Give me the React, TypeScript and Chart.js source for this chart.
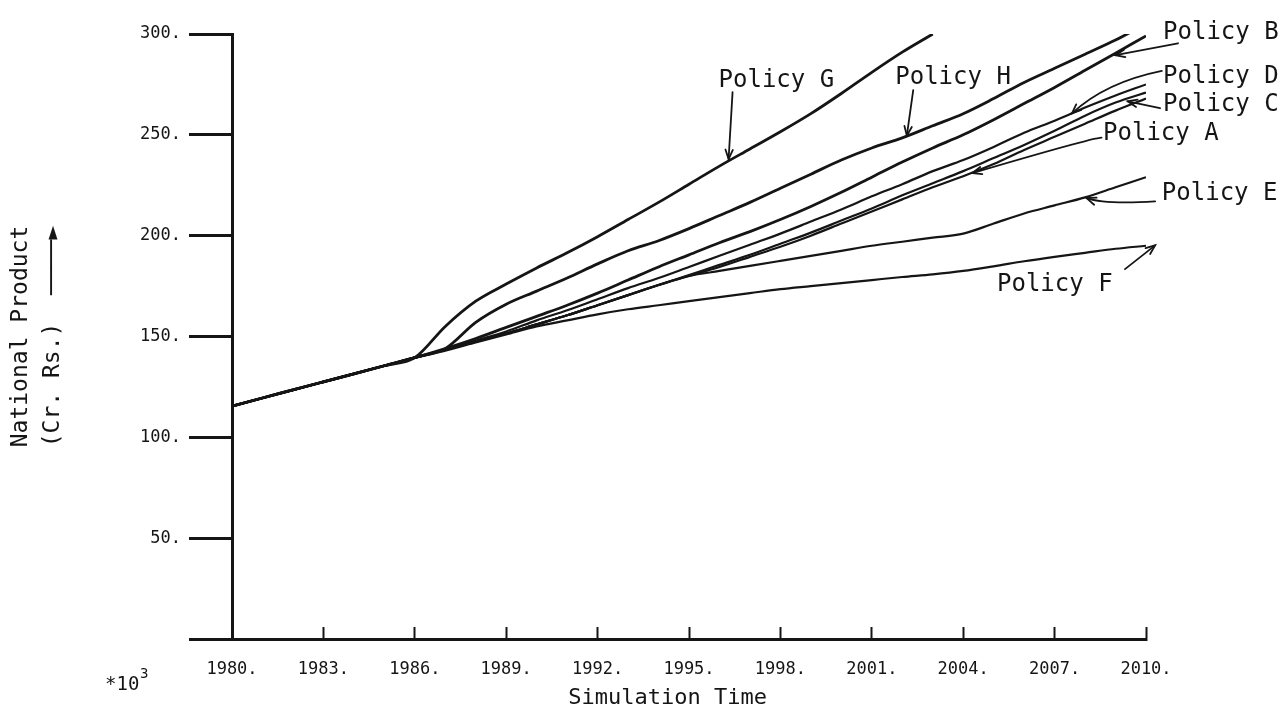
import React, { useEffect, useRef } from 'react';
import { Chart, registerables } from 'chart.js';

Chart.register(...registerables);

const FONT = '"DejaVu Sans Mono", "Liberation Mono", monospace';
const INK = '#151515';

const YEARS = [1980, 1981, 1982, 1983, 1984, 1985, 1986, 1987, 1988, 1989, 1990, 1991, 1992, 1993, 1994, 1995, 1996, 1997, 1998, 1999, 2000, 2001, 2002, 2003, 2004, 2005, 2006, 2007, 2008, 2009, 2010];

const POLICY_G = [115.5, 119.5, 123.5, 127.5, 131.5, 135.5, 139.5, 155, 167.5, 176, 184, 191.5, 199.5, 208, 216.5, 225.5, 234.5, 243, 251.5, 260.5, 270.5, 281, 291, 300, null, null, null, null, null, null, null];
const POLICY_H = [115.5, 119.5, 123.5, 127.5, 131.5, 135.5, 139.5, 144, 157, 166, 172.5, 179, 186, 192.5, 197.5, 203.5, 210, 216.5, 223.5, 230.5, 237.5, 243.5, 248.5, 254.5, 260.5, 268, 276, 283, 290, 297, 305];
const POLICY_B = [115.5, 119.5, 123.5, 127.5, 131.5, 135.5, 139.5, 144, 149, 154.5, 160, 165.5, 171.5, 178, 184.5, 190.5, 196.5, 202, 208, 214.5, 221.5, 229, 236.5, 243.5, 250, 257.5, 265.5, 273.5, 282, 290.5, 299];
const POLICY_D = [115.5, 119.5, 123.5, 127.5, 131.5, 135.5, 139.5, 143.5, 148, 152.5, 158, 163, 168.5, 174, 179, 184.5, 190, 195.5, 201, 207, 213, 219.5, 225.5, 232, 237.5, 244, 251, 257, 263.5, 269.5, 275];
const POLICY_C = [115.5, 119.5, 123.5, 127.5, 131.5, 135.5, 139.5, 143.5, 147.5, 151.5, 156, 160.5, 165.5, 170.5, 175.5, 180.5, 185.5, 190.5, 196, 201.5, 207.5, 213.5, 220, 226, 232, 238.5, 245, 252, 259.5, 266, 271];
const POLICY_A = [115.5, 119.5, 123.5, 127.5, 131.5, 135.5, 139.5, 143.5, 147.5, 151.5, 156, 160.5, 165.5, 170.5, 175.5, 180, 184.5, 189.5, 194.5, 200, 206, 212, 218, 224, 229.5, 235.5, 242.5, 249, 255.5, 262, 268];
const POLICY_E = [115.5, 119.5, 123.5, 127.5, 131.5, 135.5, 139.5, 143.5, 147.5, 151.5, 156, 160.5, 165.5, 170.5, 175.5, 180, 182.5, 185, 187.5, 190, 192.5, 195, 197, 199, 201, 206, 211, 215, 219, 224, 229];
const POLICY_F = [115.5, 119.5, 123.5, 127.5, 131.5, 135.5, 139.5, 143, 147, 151, 155, 158, 161, 163.5, 165.5, 167.5, 169.5, 171.5, 173.5, 175, 176.5, 178, 179.5, 180.8, 182.5, 184.8, 187.3, 189.5, 191.5, 193.5, 195];

const SERIES_NAMES = ['Policy G', 'Policy H', 'Policy B', 'Policy D', 'Policy C', 'Policy A', 'Policy E', 'Policy F'];
const SERIES_VALUES = [POLICY_G, POLICY_H, POLICY_B, POLICY_D, POLICY_C, POLICY_A, POLICY_E, POLICY_F];

// Axis ranges and tick steps
const Y_MIN = 0;
const Y_MAX = 300;
const Y_STEP = 50;
const X_MIN = 1980;
const X_MAX = 2010;
const X_STEP = 3;

// Label annotations (data coordinates: text start year, value at text middle)
const LABEL_TEXT = ['Policy G', 'Policy H', 'Policy B', 'Policy D', 'Policy C', 'Policy A', 'Policy E', 'Policy F'];
const LABEL_X = [1995.97, 2001.77, 2010.56, 2010.56, 2010.56, 2008.59, 2010.52, 2005.11];
const LABEL_Y = [276.8, 278.4, 300.6, 278.8, 265.1, 250.5, 221, 175.8];
// Arrow leaders: tail -> (via) -> tip, in data coordinates
const ARROW_TAIL_X = [1996.43, 2002.36, 2011.05, 2010.52, 2010.46, 2008.54, 2010.3, 2009.31];
const ARROW_TAIL_Y = [271.2, 272.2, 295.4, 281.7, 263.2, 248.6, 217.0, 183.4];
const ARROW_VIA_X = [null, null, null, 2008.66, null, 2008.21, 2008.66, null];
const ARROW_VIA_Y = [null, null, null, 276.0, null, 248.4, 215.4, null];
const ARROW_TIP_X = [1996.3, 2002.15, 2009.0, 2007.57, 2009.4, 2004.3, 2008.05, 2010.3];
const ARROW_TIP_Y = [238.0, 249.6, 289.5, 260.6, 266.6, 231.0, 218.6, 195.2];

const annotationPlugin = {
  id: 'policyAnnotations',
  afterDraw(chart: any) {
    const ctx = chart.ctx as CanvasRenderingContext2D;
    const xs = chart.scales.x;
    const ys = chart.scales.y;
    const area = chart.chartArea;
    ctx.save();
    ctx.fillStyle = INK;
    ctx.strokeStyle = INK;

    // Policy labels
    ctx.font = `24px ${FONT}`;
    ctx.textAlign = 'left';
    ctx.textBaseline = 'middle';
    for (let i = 0; i < LABEL_TEXT.length; i++) {
      ctx.fillText(LABEL_TEXT[i], xs.getPixelForValue(LABEL_X[i]), ys.getPixelForValue(LABEL_Y[i]));
    }

    // Arrows
    ctx.lineWidth = 1.8;
    ctx.lineCap = 'round';
    for (let i = 0; i < ARROW_TAIL_X.length; i++) {
      const tx = xs.getPixelForValue(ARROW_TAIL_X[i]);
      const ty = ys.getPixelForValue(ARROW_TAIL_Y[i]);
      const px = xs.getPixelForValue(ARROW_TIP_X[i]);
      const py = ys.getPixelForValue(ARROW_TIP_Y[i]);
      ctx.beginPath();
      ctx.moveTo(tx, ty);
      let fromX = tx;
      let fromY = ty;
      const vx = ARROW_VIA_X[i];
      const vy = ARROW_VIA_Y[i];
      if (vx !== null && vy !== null) {
        const cx = xs.getPixelForValue(vx);
        const cy = ys.getPixelForValue(vy);
        ctx.quadraticCurveTo(cx, cy, px, py);
        fromX = cx;
        fromY = cy;
      } else {
        ctx.lineTo(px, py);
      }
      ctx.stroke();
      const ang = Math.atan2(py - fromY, px - fromX);
      const len = 10;
      ctx.beginPath();
      ctx.moveTo(px - len * Math.cos(ang - 0.38), py - len * Math.sin(ang - 0.38));
      ctx.lineTo(px, py);
      ctx.lineTo(px - len * Math.cos(ang + 0.38), py - len * Math.sin(ang + 0.38));
      ctx.stroke();
    }

    // Multiplier note
    ctx.textBaseline = 'alphabetic';
    ctx.font = `19px ${FONT}`;
    ctx.fillText('*10', area.left - 127, 690);
    ctx.font = `14px ${FONT}`;
    ctx.fillText('3', area.left - 92, 678);

    // X axis title
    ctx.font = `22px ${FONT}`;
    ctx.textAlign = 'center';
    ctx.textBaseline = 'middle';
    ctx.fillText('Simulation Time', xs.getPixelForValue(1994.3), 698);
    ctx.restore();
  },
};

export default function App() {
  const canvasRef = useRef<HTMLCanvasElement | null>(null);

  useEffect(() => {
    const canvas = canvasRef.current;
    if (!canvas) return;
    const datasets = SERIES_NAMES.map((name, i) => ({
      label: name,
      data: YEARS.map((yr, j) => ({ x: yr, y: SERIES_VALUES[i][j] })),
      borderColor: INK,
      borderWidth: i < 3 ? 2.8 : 2.2,
      pointRadius: 0,
      fill: false,
      cubicInterpolationMode: 'monotone' as const,
      spanGaps: false,
    }));

    const chart = new Chart(canvas, {
      type: 'line',
      data: { datasets },
      plugins: [annotationPlugin],
      options: {
        animation: false,
        responsive: false,
        devicePixelRatio: 1,
        layout: { padding: { left: 0, right: 140, top: 34, bottom: 0 } },
        plugins: { legend: { display: false }, tooltip: { enabled: false } },
        scales: {
          x: {
            type: 'linear',
            min: X_MIN,
            max: X_MAX,
            ticks: {
              stepSize: X_STEP,
              callback: (v: any) => `${v}.`,
              font: { family: FONT, size: 17 },
              color: INK,
              padding: 32,
              maxRotation: 0,
              autoSkip: false,
            },
            grid: { drawOnChartArea: false, drawTicks: true, tickLength: -12, tickWidth: 2, tickColor: INK },
            border: { display: true, color: INK, width: 3 },
            afterFit: (s: any) => { s.height = 82; },
          },
          y: {
            type: 'linear',
            min: Y_MIN,
            max: Y_MAX,
            ticks: {
              stepSize: Y_STEP,
              callback: (v: any) => (v === 0 ? '' : `${v}.`),
              font: { family: FONT, size: 17 },
              color: INK,
              padding: 8,
            },
            grid: { drawOnChartArea: false, drawTicks: true, tickLength: 43, tickWidth: 3, tickColor: INK },
            border: { display: true, color: INK, width: 3 },
            title: {
              display: true,
              text: ['National Product', '(Cr. Rs.)  \u2500\u2500\u2500\u2500\u25BA'],
              font: { family: FONT, size: 23, lineHeight: 1.35 },
              color: INK,
              padding: { top: 6, bottom: 0 },
            },
            afterFit: (s: any) => { s.width = 232; },
          },
        },
      },
    });
    return () => chart.destroy();
  }, []);

  return (
    <div style={{ position: 'absolute', left: 0, top: 0, width: 1286, height: 721, background: '#fff' }}>
      <canvas ref={canvasRef} width={1286} height={721} style={{ display: 'block' }} />
    </div>
  );
}
